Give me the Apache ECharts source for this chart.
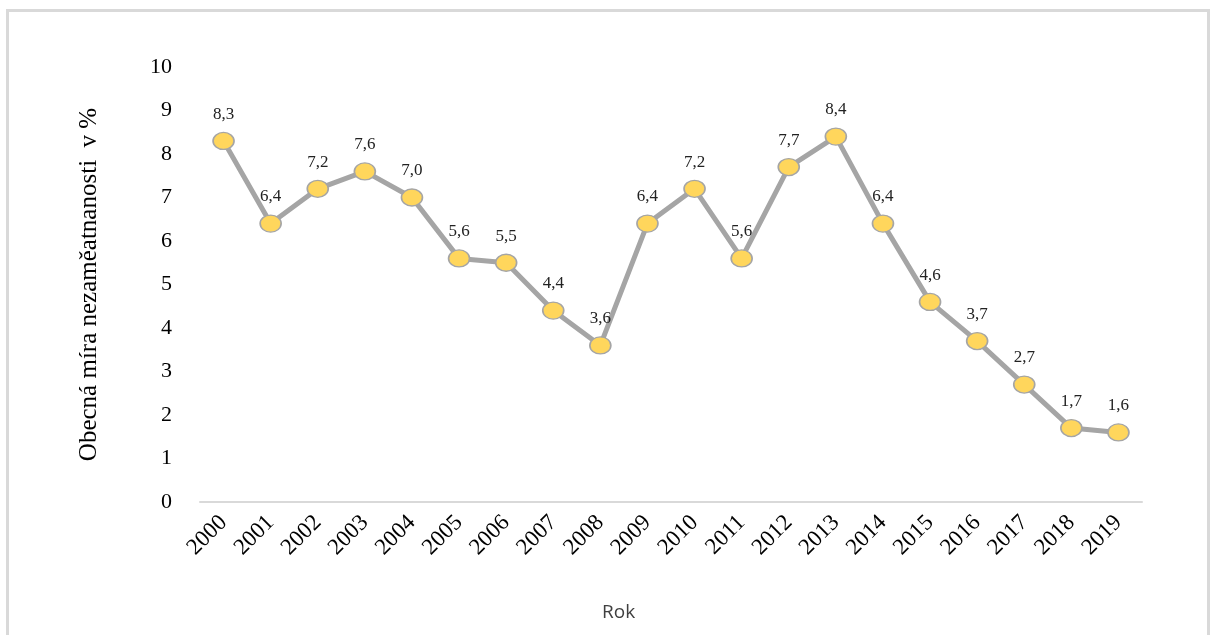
<!DOCTYPE html>
<html>
<head>
<meta charset="utf-8">
<script src="https://cdn.jsdelivr.net/npm/echarts@6/dist/echarts.min.js"></script>
<style>html,body{margin:0;padding:0;background:#fff;}#c{width:1211px;height:635px;}</style>
</head>
<body>
<div id="c"></div>
<script>
const years = ['2000','2001','2002','2003','2004','2005','2006','2007','2008','2009','2010','2011','2012','2013','2014','2015','2016','2017','2018','2019'];
const rates = [8.3,6.4,7.2,7.6,7.0,5.6,5.5,4.4,3.6,6.4,7.2,5.6,7.7,8.4,6.4,4.6,3.7,2.7,1.7,1.6];
const yTitle = 'Obecná míra nezaměatnanosti  v %';
const xTitle = 'Rok';

const chart = echarts.init(document.getElementById('c'), null, {renderer:'canvas'});
chart.setOption({
  backgroundColor:'#fff',
  animation:false,
  grid:{left:200, right:69, top:67, bottom:133},
  graphic:[
    {type:'rect', shape:{x:7.5, y:10.5, width:1201, height:640}, style:{fill:'none', stroke:'#d9d9d9', lineWidth:3}, z:-1},
    {type:'text', left:602, top:603, style:{text:xTitle, font:'19px "Open Sans", "DejaVu Sans", sans-serif', fill:'#404040'}}
  ],
  xAxis:{
    type:'category', data:years, boundaryGap:true,
    axisLine:{lineStyle:{color:'#d9d9d9', width:2}},
    axisTick:{show:false},
    axisLabel:{rotate:45, margin:17, color:'#000', fontFamily:'Liberation Serif', fontSize:23}
  },
  yAxis:{
    type:'value', min:0, max:10, interval:1,
    name:yTitle, nameLocation:'middle', nameGap:98, nameRotate:90,
    nameTextStyle:{fontFamily:'Liberation Serif', fontSize:25, color:'#000'},
    axisLine:{show:false}, axisTick:{show:false}, splitLine:{show:false},
    axisLabel:{margin:28, color:'#000', fontFamily:'Liberation Serif', fontSize:22}
  },
  series:[{
    type:'line', data:rates,
    symbol:'circle', symbolSize:[21,17],
    lineStyle:{color:'#a5a5a5', width:5},
    itemStyle:{color:'#ffd65c', borderColor:'#a5a5a5', borderWidth:1.5},
    label:{show:true, position:'top', distance:9, fontFamily:'Liberation Serif', fontSize:17, color:'#222',
      formatter:p=>p.value.toFixed(1).replace('.',',')}
  }]
});
</script>
</body>
</html>
